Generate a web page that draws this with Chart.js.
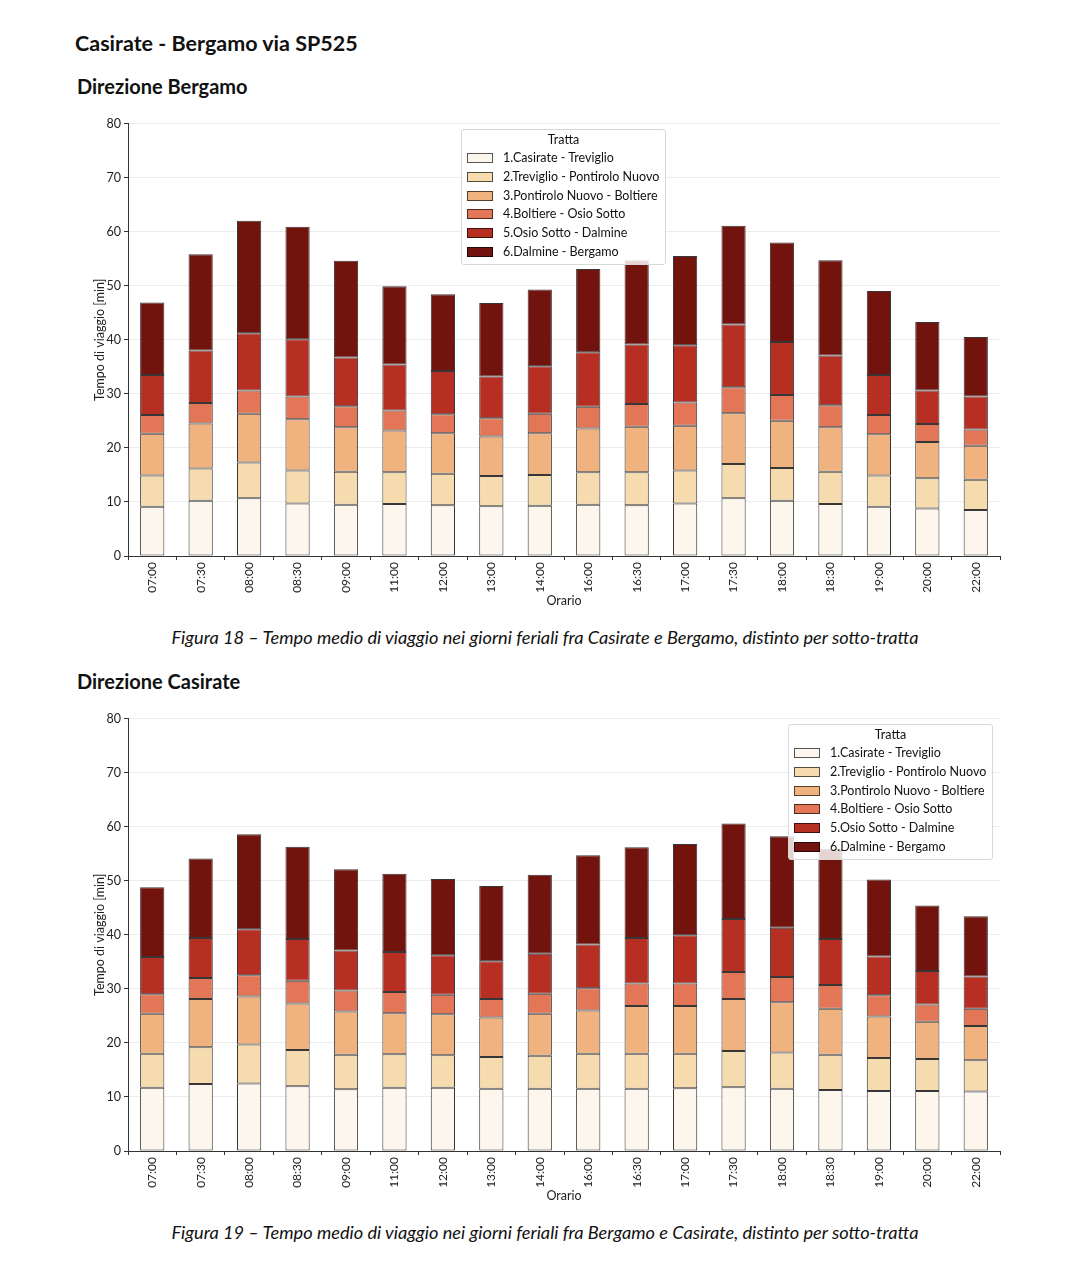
<!DOCTYPE html>
<html><head><meta charset="utf-8">
<script src="https://cdn.jsdelivr.net/npm/chart.js@4"></script>
<style>
body{margin:0;background:#fff;width:1067px;height:1280px;position:relative;font-family:Lato,"Open Sans",sans-serif;color:#111;}
.abs{position:absolute;}
h1,h2{margin:0;font-weight:700;white-space:nowrap;}
.cap{position:absolute;left:0;width:1090px;text-align:center;font-style:italic;font-size:18.2px;color:#111;}
.legend{position:absolute;width:205px;height:136px;background:rgba(255,255,255,0.82);border:1px solid #d8d8d8;border-radius:3px;box-sizing:border-box;font-size:12.5px;color:#111;}
.legend .t{text-align:center;margin-top:1px;height:18px;line-height:18px;}
.legend .r{height:18.8px;line-height:18.8px;position:relative;white-space:nowrap;}
.legend .sw{position:absolute;left:5px;top:4px;width:26px;height:10px;box-sizing:border-box;border:1px solid rgba(0,0,0,0.65);}
.legend .lb{position:absolute;left:41px;top:0;}
</style></head>
<body>
<h1 class="abs" style="left:75px;top:30px;font-size:21.5px;">Casirate - Bergamo via SP525</h1>
<h2 class="abs" style="left:77px;top:74px;font-size:20px;">Direzione Bergamo</h2>
<div class="abs" style="left:92px;top:113px;width:918px;height:497px;"><canvas id="c1"></canvas></div>
<div id="lg1" class="legend" style="left:461px;top:129px;"></div>
<div class="cap" style="top:626px;">Figura 18 – Tempo medio di viaggio nei giorni feriali fra Casirate e Bergamo, distinto per sotto-tratta</div>
<h2 class="abs" style="left:77px;top:669px;font-size:20px;">Direzione Casirate</h2>
<div class="abs" style="left:92px;top:708px;width:918px;height:497px;"><canvas id="c2"></canvas></div>
<div id="lg2" class="legend" style="left:788px;top:724px;"></div>
<div class="cap" style="top:1221px;">Figura 19 – Tempo medio di viaggio nei giorni feriali fra Bergamo e Casirate, distinto per sotto-tratta</div>
<script>
const orari = ["07:00","07:30","08:00","08:30","09:00","11:00","12:00","13:00","14:00","16:00","16:30","17:00","17:30","18:00","18:30","19:00","20:00","22:00"];
const tratte = ["1.Casirate - Treviglio","2.Treviglio - Pontirolo Nuovo","3.Pontirolo Nuovo - Boltiere","4.Boltiere - Osio Sotto","5.Osio Sotto - Dalmine","6.Dalmine - Bergamo"];
const coloriTratte = ["#fdf6ec","#f6dbaf","#f0b380","#e27657","#b72e22","#73130d"];
const yTicks = [0,10,20,30,40,50,60,70,80];

// Direzione Bergamo (minuti per sotto-tratta)
const dirBergamo_t1 = [9.1,10.2,10.7,9.7,9.5,9.6,9.4,9.2,9.3,9.5,9.4,9.7,10.7,10.2,9.6,9.1,8.8,8.5];
const dirBergamo_t2 = [5.8,6.0,6.6,6.1,6.1,5.9,5.8,5.6,5.7,6.0,6.1,6.1,6.3,6.1,6.0,5.8,5.6,5.6];
const dirBergamo_t3 = [7.7,8.3,9.0,9.5,8.2,7.7,7.5,7.3,7.7,8.1,8.4,8.3,9.4,8.7,8.2,7.6,6.7,6.3];
const dirBergamo_t4 = [3.5,3.8,4.3,4.2,3.9,3.7,3.5,3.4,3.6,4.0,4.2,4.3,4.8,4.8,4.1,3.6,3.3,3.0];
const dirBergamo_t5 = [7.4,9.7,10.6,10.6,9.0,8.5,8.0,7.7,8.8,10.1,11.0,10.6,11.6,9.8,9.2,7.4,6.2,6.1];
const dirBergamo_t6 = [13.4,17.8,20.8,20.8,17.9,14.5,14.2,13.6,14.2,15.4,15.6,16.5,18.3,18.4,17.6,15.5,12.7,11.0];

// Direzione Casirate (minuti per sotto-tratta)
const dirCasirate_t1 = [11.7,12.4,12.5,12.0,11.4,11.7,11.7,11.5,11.5,11.5,11.5,11.6,11.8,11.5,11.3,11.1,11.1,11.0];
const dirCasirate_t2 = [6.3,6.8,7.2,6.7,6.4,6.2,6.0,5.9,6.1,6.5,6.5,6.4,6.7,6.7,6.5,6.1,5.9,5.8];
const dirCasirate_t3 = [7.4,8.9,8.9,8.6,8.0,7.6,7.6,7.3,7.8,8.0,8.8,8.8,9.6,9.3,8.5,7.7,6.9,6.3];
const dirCasirate_t4 = [3.6,3.9,3.9,4.2,3.9,3.9,3.6,3.4,3.7,4.1,4.2,4.2,5.0,4.7,4.4,3.9,3.2,3.2];
const dirCasirate_t5 = [6.9,7.4,8.5,7.7,7.4,7.4,7.3,7.0,7.4,8.1,8.4,8.9,9.8,9.1,8.5,7.2,6.2,6.0];
const dirCasirate_t6 = [12.9,14.7,17.6,17.1,15.0,14.5,14.1,13.9,14.6,16.5,16.8,16.9,17.7,16.9,16.7,14.2,12.1,11.1];

Chart.defaults.font.family = "Lato, 'Open Sans', sans-serif";
Chart.defaults.color = "#222";

function buildLegend(id){
  const el = document.getElementById(id);
  let h = '<div class="t">Tratta</div>';
  tratte.forEach((t,i)=>{
    h += '<div class="r"><span class="sw" style="background:'+coloriTratte[i]+'"></span><span class="lb">'+t+'</span></div>';
  });
  el.innerHTML = h;
}

function buildChart(id, series){
  const ctx = document.getElementById(id);
  return new Chart(ctx, {
    type: 'bar',
    data: {
      labels: orari,
      datasets: series.map((d,i)=>({
        label: tratte[i], data: d,
        backgroundColor: coloriTratte[i],
        borderColor: 'rgba(20,20,20,0.85)', borderWidth: 1, borderSkipped: false,
        barPercentage: 0.5, categoryPercentage: 1.0
      }))
    },
    options: {
      responsive: true, maintainAspectRatio: false, animation: false,
      layout: { padding: { top: 10, right: 10, left: 0, bottom: 0 } },
      plugins: { legend: { display: false }, tooltip: { enabled: false } },
      scales: {
        x: {
          stacked: true, offset: true,
          grid: { drawOnChartArea: false, drawTicks: true, tickLength: 4, tickColor: '#333' },
          border: { display: true, color: '#333', width: 1 },
          ticks: { minRotation: 90, maxRotation: 90, autoSkip: false, padding: 2, font: { size: 12 }, color: '#222' },
          title: { display: true, text: 'Orario', font: { size: 12.5 }, color: '#222', padding: { top: 0, bottom: 2 } },
          afterFit: s => { s.height = 54; }
        },
        y: {
          stacked: true, min: 0, max: 80,
          afterBuildTicks: s => { s.ticks = yTicks.map(v => ({ value: v })); },
          grid: { color: '#ececec', lineWidth: 1, drawTicks: true, tickLength: 4, tickColor: '#333' },
          border: { display: true, color: '#333', width: 1 },
          ticks: { font: { size: 12.5 }, color: '#222', padding: 3 },
          title: { display: true, text: 'Tempo di viaggio [min]', font: { size: 12.5 }, color: '#222', padding: { top: 0, bottom: 2 } },
          afterFit: s => { s.width = 36; }
        }
      }
    }
  });
}

buildChart('c1', [dirBergamo_t1,dirBergamo_t2,dirBergamo_t3,dirBergamo_t4,dirBergamo_t5,dirBergamo_t6]);
buildChart('c2', [dirCasirate_t1,dirCasirate_t2,dirCasirate_t3,dirCasirate_t4,dirCasirate_t5,dirCasirate_t6]);
buildLegend('lg1');
buildLegend('lg2');
</script>
</body></html>
